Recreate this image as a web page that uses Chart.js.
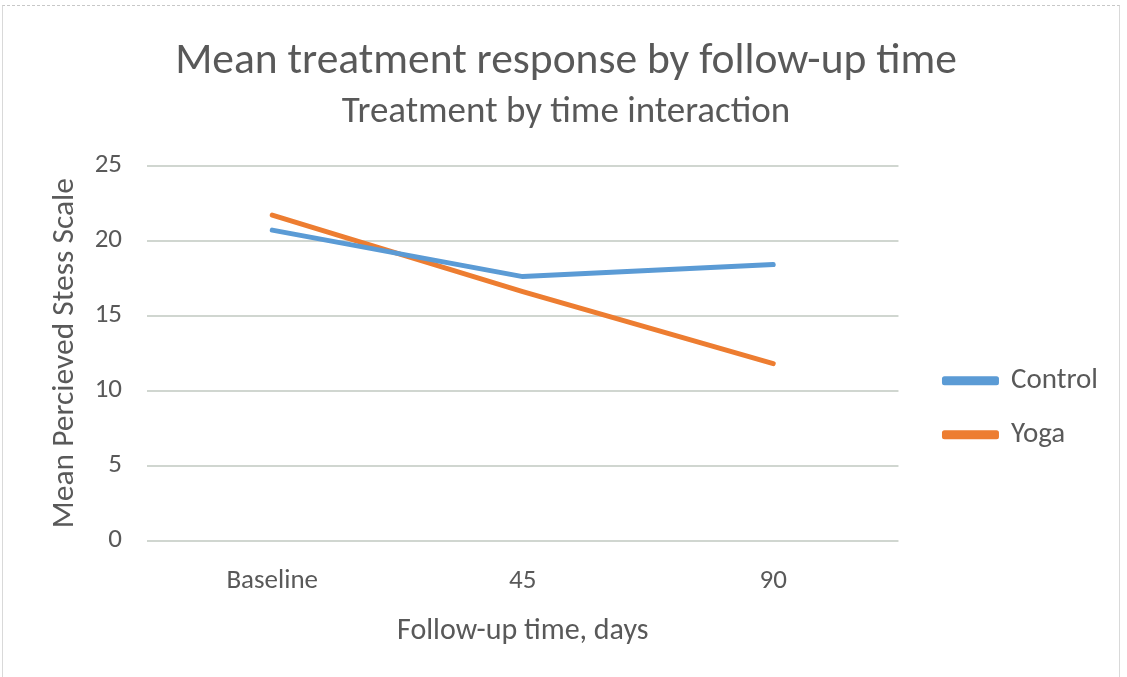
<!DOCTYPE html>
<html>
<head>
<meta charset="utf-8">
<script src="https://cdn.jsdelivr.net/npm/chart.js@4.4.1/dist/chart.umd.min.js"></script>
<style>
  html, body { margin: 0; padding: 0; background: #fff; overflow: hidden; }
  canvas { display: block; position: absolute; left: 0; top: 0; }
  #frame { position: absolute; left: 2px; top: 5px; width: 1116px; height: 680px; pointer-events: none;
           border-top: 1px dashed #c8c8c8; border-left: 1px solid #d9d9d9; border-right: 1px solid #d9d9d9; }
</style>
</head>
<body>
<canvas id="c" width="1127" height="677"></canvas>
<div id="frame"></div>
<script>
const categories = ["Baseline", "45", "90"];
const controlValues = [20.7, 17.6, 18.4];
const yogaValues = [21.7, 16.6, 11.8];
const yTicks = [0, 5, 10, 15, 20, 25];

const FONT = "Carlito, Lato, 'Open Sans', sans-serif";
const TXT = "#595959";

new Chart(document.getElementById("c"), {
  type: "line",
  data: {
    labels: categories,
    datasets: [
      { label: "Control", data: controlValues, borderColor: "#5B9BD5", backgroundColor: "#5B9BD5",
        borderWidth: 5, pointRadius: 0, tension: 0, borderCapStyle: "round", borderJoinStyle: "round" },
      { label: "Yoga", data: yogaValues, borderColor: "#ED7D31", backgroundColor: "#ED7D31",
        borderWidth: 5, pointRadius: 0, tension: 0, borderCapStyle: "round", borderJoinStyle: "round" }
    ]
  },
  options: {
    responsive: false,
    animation: false,
    layout: { padding: { left: 24, right: 19, top: 26, bottom: 24 } },
    plugins: {
      title: { display: true, text: "Mean treatment response by follow-up time", color: TXT,
        font: { family: FONT, size: 43.5, weight: "normal" }, padding: { top: 10, bottom: 2 } },
      subtitle: { display: true, text: "Treatment by time interaction", color: TXT,
        font: { family: FONT, size: 37, weight: "normal" }, padding: { top: 0, bottom: 31 } },
      legend: {
        position: "right",
        maxWidth: 400,
        title: { display: true, text: " ", font: { size: 12 }, padding: { top: 122, bottom: 0 } },
        labels: { color: TXT, font: { family: FONT, size: 29 }, boxWidth: 52, boxHeight: 4, padding: 25 }
      },
      tooltip: { enabled: false }
    },
    scales: {
      x: {
        offset: true,
        grid: { display: false },
        border: { display: false },
        ticks: { color: TXT, font: { family: FONT, size: 27 }, padding: 16 },
        title: { display: true, text: "Follow-up time, days", color: TXT,
          font: { family: FONT, size: 30 }, padding: { top: 0 } }
      },
      y: {
        min: 0, max: 25,
        afterBuildTicks: (axis) => { axis.ticks = yTicks.map(v => ({ value: v })); },
        afterFit: (scale) => { scale.width = 123; },
        grid: { color: "#d0d6d0", lineWidth: 2, drawTicks: false },
        border: { display: false },
        ticks: { color: TXT, font: { family: FONT, size: 27 }, padding: 25 },
        title: { display: true, text: "Mean Percieved Stess Scale", color: TXT,
          font: { family: FONT, size: 31.5 }, padding: { top: 22, bottom: 0 } }
      },
      yRight: {
        position: "right",
        display: true,
        grid: { display: false },
        border: { display: false },
        ticks: { display: false },
        afterFit: (scale) => { scale.width = 21; }
      }
    }
  }
});
</script>
</body>
</html>
